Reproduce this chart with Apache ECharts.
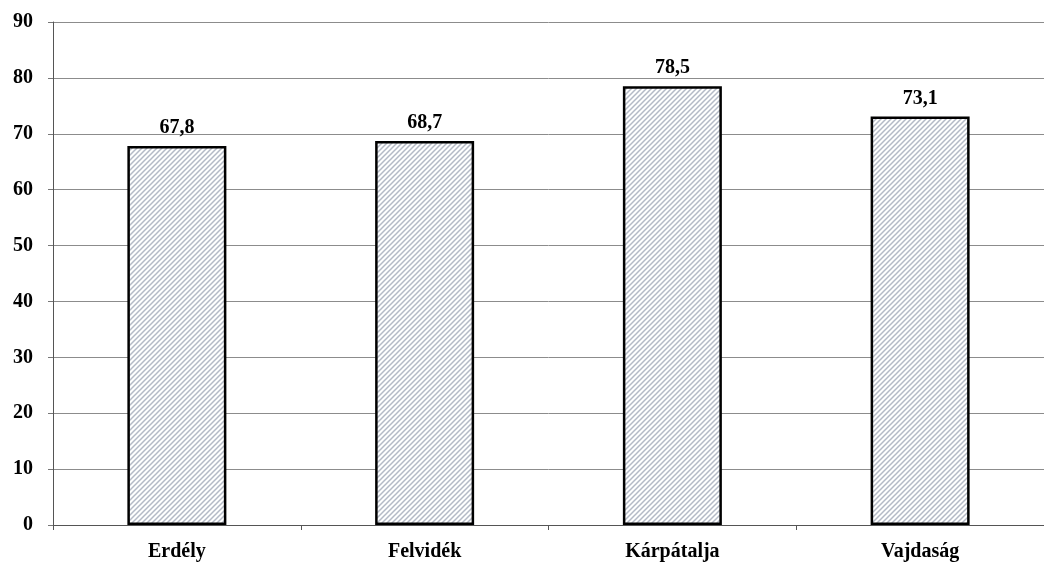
<!DOCTYPE html>
<html><head><meta charset="utf-8">
<script src="https://cdn.jsdelivr.net/npm/echarts@6/dist/echarts.min.js"></script>
<style>html,body{margin:0;padding:0;background:#fff}#c{width:1044px;height:562px}</style>
</head><body><div id="c"></div>
<script>
const categories = ['Erdély', 'Felvidék', 'Kárpátalja', 'Vajdaság'];
const values = [67.8, 68.7, 78.5, 73.1];

const pc = document.createElement('canvas');
pc.width = 5; pc.height = 5;
const ctx = pc.getContext('2d');
ctx.fillStyle = '#ffffff'; ctx.fillRect(0, 0, 5, 5);
ctx.strokeStyle = '#b4bac6'; ctx.lineWidth = 1.5;
ctx.beginPath();
ctx.moveTo(-1, 6); ctx.lineTo(6, -1);
ctx.moveTo(-4, 4); ctx.lineTo(4, -4);
ctx.moveTo(1, 9); ctx.lineTo(9, 1);
ctx.stroke();

const font = '"Liberation Serif", "DejaVu Serif", serif';
const chart = echarts.init(document.getElementById('c'), null, {renderer: 'canvas'});
chart.setOption({
  animation: false,
  grid: {left: 53, width: 998, top: 22, bottom: 37},
  xAxis: {
    type: 'category', data: categories,
    axisLine: {lineStyle: {color: '#555', width: 1}},
    axisTick: {show: true, length: 5, lineStyle: {color: '#555'}},
    axisLabel: {fontFamily: font, fontWeight: 'bold', fontSize: 20, color: '#000', margin: 17}
  },
  yAxis: {
    type: 'value', min: 0, max: 90, interval: 10,
    axisLine: {show: true, lineStyle: {color: '#555', width: 1}},
    axisTick: {show: true, length: 5, lineStyle: {color: '#777'}},
    splitLine: {lineStyle: {color: '#8c8c8c', width: 1}},
    axisLabel: {fontFamily: font, fontWeight: 'bold', fontSize: 20, color: '#000', margin: 20}
  },
  series: [{
    type: 'bar', data: values, barWidth: 99,
    itemStyle: {color: {image: pc, repeat: 'repeat'}, borderColor: '#000', borderWidth: 2.5},
    label: {show: true, position: 'top', distance: 8, fontFamily: font, fontWeight: 'bold', fontSize: 20, color: '#000',
      formatter: p => String(p.value).replace('.', ',')}
  }]
});
</script></body></html>
